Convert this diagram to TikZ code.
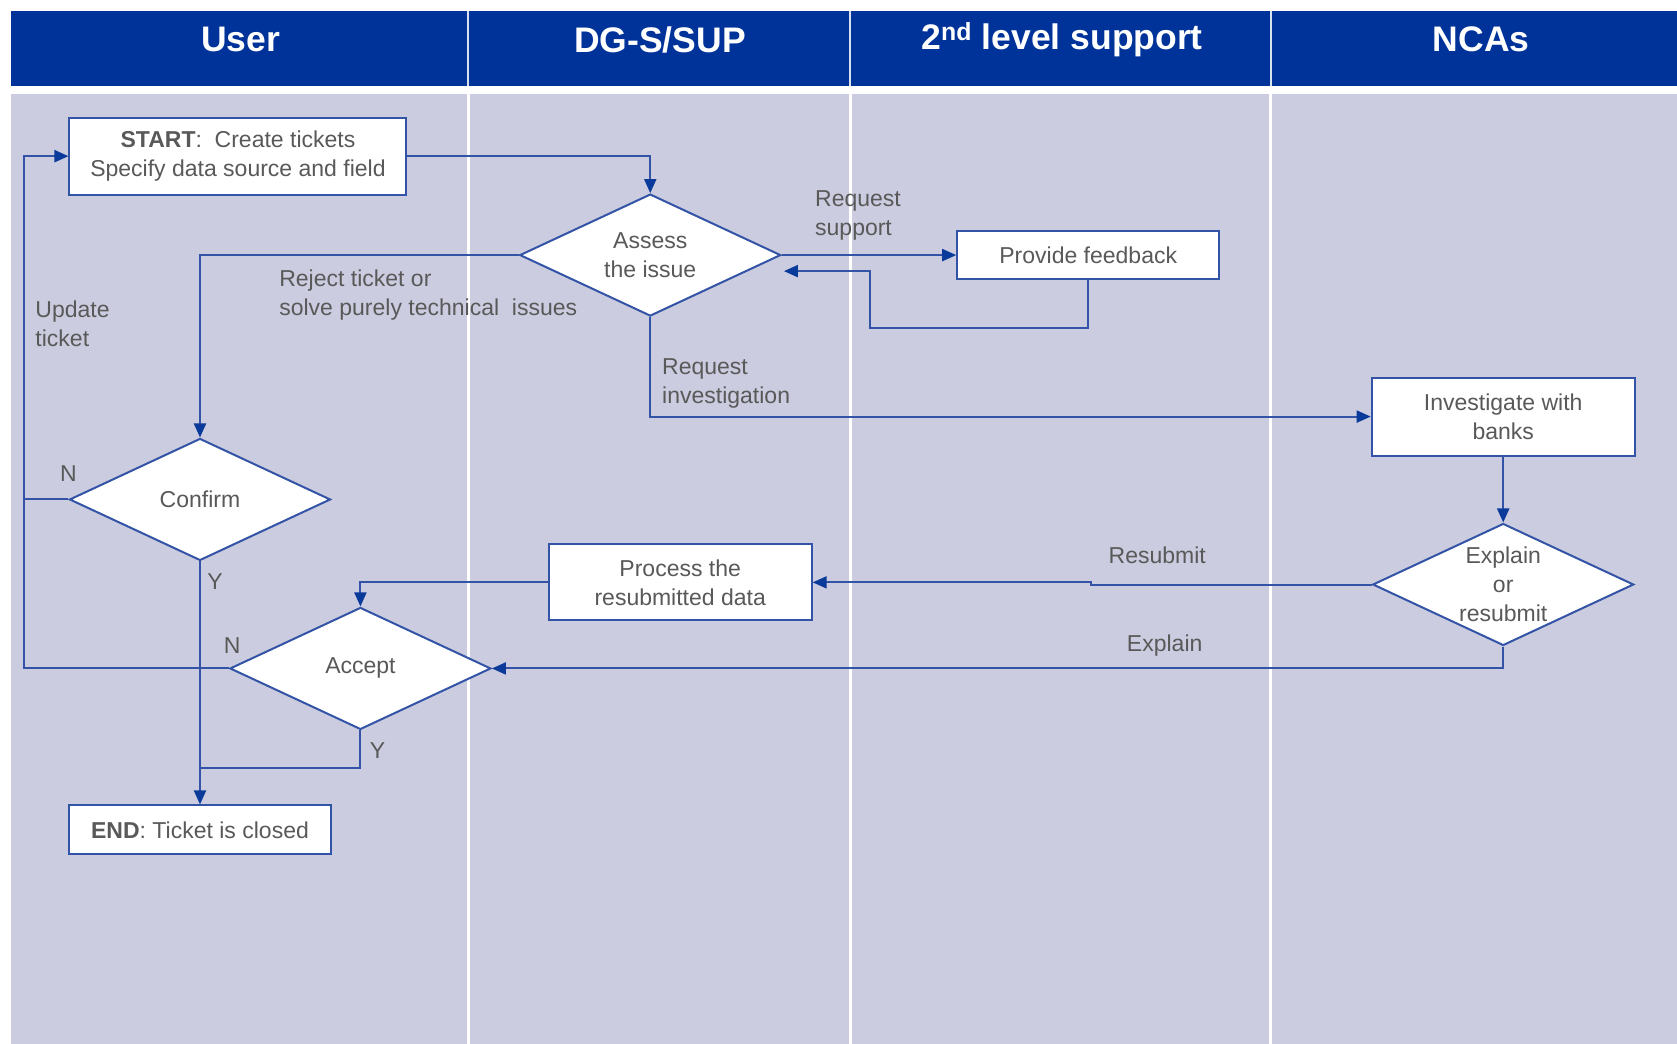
\documentclass[tikz,border=0pt]{standalone}
\usepackage{fontspec}
\setmainfont{Liberation Sans}
\usetikzlibrary{shapes.geometric,arrows.meta,calc}
\definecolor{hdr}{HTML}{003399}
\definecolor{lane}{HTML}{CBCCDF}
\definecolor{edgec}{HTML}{3354A6}
\definecolor{tipc}{HTML}{0A3A9A}
\definecolor{txt}{HTML}{595959}
\begin{document}
\begin{tikzpicture}[x=1.0695pt,y=-1.0695pt,
  nfont/.style={font=\fontsize{23}{29}\selectfont},
  box/.style={draw=edgec, line width=2pt, fill=white, rectangle, inner sep=0pt, align=center, text=txt, nfont},
  dia/.style={draw=edgec, line width=2pt, fill=white, diamond, inner sep=0pt, minimum width=261pt, minimum height=122pt},
  conn/.style={draw=edgec, line width=2pt},
  arr/.style={conn, -{Triangle[length=14pt,width=12pt,color=tipc]}},
  lbl/.style={text=txt, nfont, align=left, inner sep=0pt},
  dlbl/.style={text=txt, nfont, align=center, inner sep=0pt},
  head/.style={text=white, font=\fontsize{35.5}{40}\selectfont\bfseries}]
\useasboundingbox (0,0) rectangle (1568,976);
% lanes
\fill[hdr] (10,10) rectangle (1568,80);
\fill[lane] (10,88) rectangle (1568,976);
\foreach \xx in {438,795,1188}{
  \draw[white!85!hdr, line width=2pt] (\xx,10) -- (\xx,80);
  \draw[white, line width=2.5pt] (\xx,88) -- (\xx,976);
}
\node[head] (h1) at (225,37) {User};
\node[head] (h2) at (617,37) {DG-S/SUP};
\node[head] (h3) at (993,37) {2\textsuperscript{nd} level support};
\node[head] (h4) at (1385,37) {NCAs};
% nodes
\node[box, minimum width=337pt, minimum height=77pt] (start) at (222.5,146) {\textbf{START}:~ Create tickets\\Specify data source and field};
\node[dia] (assess) at (608,238.5) {};
\node[dlbl] (assesst) at (assess) {Assess\\the issue};
\node[box, minimum width=262pt, minimum height=48pt] (pf) at (1017.5,238.5) {Provide feedback};
\node[dia] (confirm) at (187,467) {};
\node[dlbl] (confirmt) at (confirm) {Confirm};
\node[box, minimum width=263pt, minimum height=78pt] (inv) at (1405.5,389.5) {Investigate with\\banks};
\node[dia] (explain) at (1405.5,546.5) {};
\node[dlbl] (explaint) at (explain) {Explain\\or\\resubmit};
\node[box, minimum width=263pt, minimum height=76pt] (proc) at (636,544.5) {Process the\\resubmitted data};
\node[dia] (accept) at (337,625) {};
\node[dlbl] (acceptt) at (accept) {Accept};
\node[box, minimum width=261pt, minimum height=49pt] (end) at (187,776) {\textbf{END}: Ticket is closed};
% helper coordinates
\coordinate (rail) at (22,0);
\coordinate (fbx) at (813,307);
\coordinate (fbend) at ($(assess.east)+(2,15)$);
\coordinate (jog) at (1020,0);
\coordinate (ymerge) at (187,718);
% connectors
\draw[arr] (start.east) -| (assess.north);
\draw[arr] (assess.west) -| (confirm.north);
\draw[arr] (assess.east) -- (pf.west);
\draw[arr] (pf.south) |- (fbx) |- (fbend);
\draw[arr] (assess.south) |- (inv.west);
\draw[arr] (inv.south) -- (explain.north);
\draw[arr] (explain.west) -- (explain.west -| jog) |- (proc.east);
\draw[arr] (explain.south) |- (accept.east);
\draw[arr] (proc.west) -| (accept.north);
\draw[arr] (confirm.west) -- (confirm.west -| rail) |- (start.west);
\draw[conn] (accept.west) -| (confirm.west -| rail);
\draw[arr] (confirm.south) -- (end.north);
\draw[conn] (accept.south) |- (ymerge);
% labels
\node[lbl, anchor=west] (l1) at (762,201.5) {Request\\support};
\node[lbl, anchor=west] (l2) at (261,275.5) {Reject ticket or\\solve purely technical~ issues};
\node[lbl, anchor=west] (l3) at (33,302.5) {Update\\ticket};
\node[lbl, anchor=west] (l4) at (619,358.5) {Request\\investigation};
\node[lbl] (l5) at (64,443) {N};
\node[lbl] (l6) at (201,544) {Y};
\node[lbl] (l7) at (217,604) {N};
\node[lbl] (l8) at (353,702) {Y};
\node[lbl] (l9) at (1082,519) {Resubmit};
\node[lbl] (l10) at (1089,604) {Explain};
\end{tikzpicture}
\end{document}
